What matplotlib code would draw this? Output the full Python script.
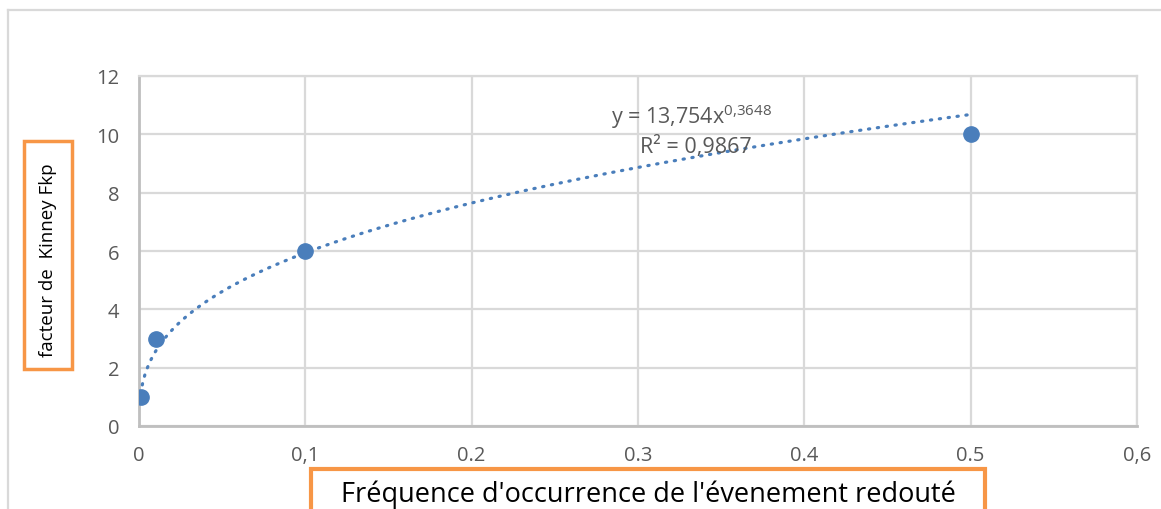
import matplotlib.pyplot as plt
import numpy as np
from matplotlib.patches import Rectangle

# data
freq = [0.001, 0.01, 0.1, 0.5]
kinney = [1, 3, 6, 10]
x_ticks = [0, 0.1, 0.2, 0.3, 0.4, 0.5, 0.6]
x_labels = ['0', '0,1', '0.2', '0.3', '0.4', '0.5', '0,6']
y_ticks = [0, 2, 4, 6, 8, 10, 12]

W, H = 1161, 510
plt.rcParams['font.family'] = ['Open Sans', 'DejaVu Sans']
plt.rcParams['mathtext.fontset'] = 'custom'
plt.rcParams['mathtext.rm'] = 'Open Sans'
plt.rcParams['mathtext.it'] = 'Open Sans'

fig = plt.figure(figsize=(W / 100, H / 100), dpi=100)

def fx(px):
    return px / W

def fy(py):
    return 1 - py / H

ax = fig.add_axes([fx(139), fy(427), fx(1137 - 139), (427 - 77) / H])

# power trend line (log-log least squares, like Excel)
b, a = np.polyfit(np.log(freq), np.log(kinney), 1)
coef = np.exp(a)
xs = np.linspace(min(freq), max(freq), 400)
ax.plot(xs, coef * xs ** b, color='#4a7ebb', lw=2.3, ls=(0, (0.4, 2.4)),
        dash_capstyle='round', zorder=3)
ax.plot(freq, kinney, 'o', color='#4a7ebb', ms=11, zorder=4)

ax.set_xlim(0, 0.6)
ax.set_ylim(0, 12)
ax.set_xticks(x_ticks)
ax.set_xticklabels(x_labels)
ax.set_yticks(y_ticks)
ax.tick_params(length=0, labelsize=14.5, colors='#595959', pad=14)
ax.grid(True, color='#d9d9d9', lw=1.6)
ax.set_axisbelow(True)
for s in ['top', 'right']:
    ax.spines[s].set_color('#d9d9d9')
    ax.spines[s].set_linewidth(1.6)
for s in ['left', 'bottom']:
    ax.spines[s].set_color('#bfbfbf')
    ax.spines[s].set_linewidth(2)

ax.text(0.332, 10.63, r'y = 13,754x$^{\mathrm{0{,}3648}}$', ha='center', va='center',
        fontsize=15.5, color='#595959')
ax.text(0.335, 9.6, 'R² = 0,9867', ha='center', va='center',
        fontsize=15.5, color='#595959')

# chart frame
fig.add_artist(plt.Line2D([fx(8), fx(8)], [fy(11), 0], color='#d9d9d9', lw=1.6))
fig.add_artist(plt.Line2D([fx(8), 1], [fy(11), fy(11)], color='#d9d9d9', lw=1.6))

# axis title boxes
orange = '#f79646'
fig.add_artist(Rectangle((fx(24), fy(370)), fx(72 - 24), (370 - 142) / H,
                         fill=False, ec=orange, lw=2.5, transform=fig.transFigure))
fig.text(fx(48), fy(260), 'facteur de  Kinney Fkp', rotation=90,
         ha='center', va='center', fontsize=13.5, color='black')
fig.add_artist(Rectangle((fx(311), fy(530)), fx(985 - 311), (530 - 470) / H,
                         fill=False, ec=orange, lw=3, transform=fig.transFigure))
fig.text(fx(648), fy(495), "Fréquence d'occurrence de l'évenement redouté",
         ha='center', va='center', fontsize=19.5, color='black')

fig.savefig('out.png', dpi=100)
